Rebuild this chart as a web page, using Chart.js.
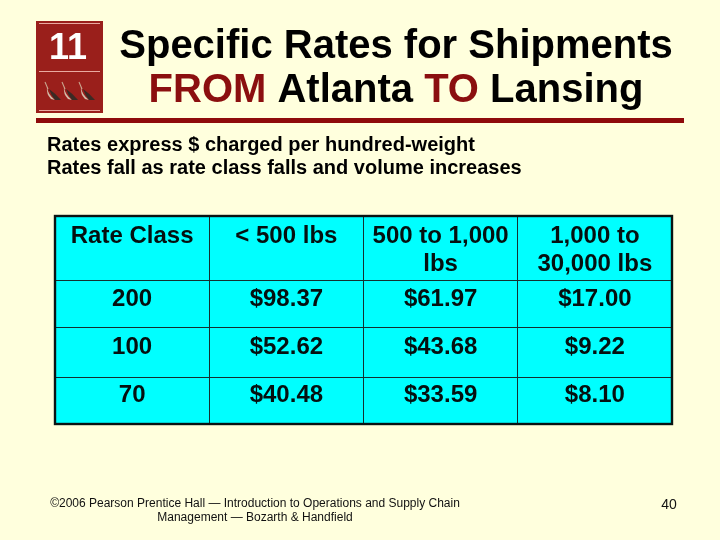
<!DOCTYPE html>
<html><head><meta charset="utf-8">
<style>html,body{margin:0;padding:0;background:#FFFFDD}canvas{display:block}</style>
<script src="https://cdn.jsdelivr.net/npm/chart.js@4"></script>
</head><body>
<canvas id="c" width="720" height="540"></canvas>
<script>
const titleLine1 = [["Specific Rates for Shipments", "#000000"]];
const titleLine2 = [["FROM", "#8B0F0F"], [" Atlanta ", "#000000"], ["TO", "#8B0F0F"], [" Lansing", "#000000"]];
const subtitleLines = ["Rates express $ charged per hundred-weight", "Rates fall as rate class falls and volume increases"];
const columnKeys = ["Rate Class", "< 500 lbs", "500 to 1,000 lbs", "1,000 to 30,000 lbs"];
const columnHeaders = [["Rate Class"], ["< 500 lbs"], ["500 to 1,000", "lbs"], ["1,000 to", "30,000 lbs"]];
const rateClasses = ["200", "100", "70"];
const under500 = ["$98.37", "$52.62", "$40.48"];
const from500 = ["$61.97", "$43.68", "$33.59"];
const from1000 = ["$17.00", "$9.22", "$8.10"];
const footerLines = ["©2006 Pearson Prentice Hall — Introduction to Operations and Supply Chain", "Management — Bozarth & Handfield"];
const pageNumber = "40";
const chapterNumber = "11";

const rowEdges = [0, 64, 111, 161, 208];
const SANS = '"Liberation Sans", Arial, sans-serif';
const RED = "#9A1F1B";

function drawGoose(ctx, x, y) {
  ctx.save(); ctx.translate(x, y);
  ctx.strokeStyle = "#C9A58E"; ctx.lineWidth = 1.1;
  ctx.beginPath(); ctx.moveTo(0, 0); ctx.lineTo(3, 7); ctx.stroke();
  ctx.fillStyle = "#D2BBA8";
  ctx.beginPath(); ctx.moveTo(2, 5); ctx.quadraticCurveTo(3, 13, 10, 18); ctx.lineTo(6, 17); ctx.quadraticCurveTo(1, 12, 2, 5); ctx.fill();
  ctx.fillStyle = "#3A2A24";
  ctx.beginPath(); ctx.moveTo(4, 7); ctx.quadraticCurveTo(10, 11, 16, 18); ctx.lineTo(10, 18); ctx.quadraticCurveTo(6, 13, 4, 7); ctx.fill();
  ctx.restore();
}

const slidePlugin = {
  id: "slide",
  beforeDraw(chart) {
    const { ctx, chartArea: a } = chart;
    ctx.save();
    ctx.fillStyle = "#FFFFDD"; ctx.fillRect(0, 0, 720, 540);
    ctx.fillStyle = "#00FFFF"; ctx.fillRect(a.left, a.top, a.right - a.left, a.bottom - a.top);
    ctx.restore();
  },
  afterDraw(chart) {
    const { ctx, chartArea: a, scales: { x, y } } = chart;
    ctx.save();
    ctx.strokeStyle = "#0A1414"; ctx.lineWidth = 2.4;
    ctx.strokeRect(a.left, a.top, a.right - a.left, a.bottom - a.top);

    // Logo
    ctx.fillStyle = RED; ctx.fillRect(36, 21, 67, 92);
    ctx.fillStyle = "#E9A9A0";
    [23, 71, 110].forEach(ly => ctx.fillRect(39, ly, 61, 1));
    ctx.fillStyle = "#FFFFFF"; ctx.font = 'bold 36px ' + SANS;
    ctx.textAlign = "center"; ctx.textBaseline = "alphabetic";
    ctx.fillText(chapterNumber, 68, 59);
    [45, 62, 79].forEach(gx => drawGoose(ctx, gx, 82));

    // Title
    ctx.fillStyle = "#000"; ctx.font = 'bold 40px ' + SANS;
    ctx.textAlign = "center"; ctx.fillText(titleLine1[0][0], 396, 58);
    const w = titleLine2.reduce((s, t) => s + ctx.measureText(t[0]).width, 0);
    let tx = 396 - w / 2; ctx.textAlign = "left";
    titleLine2.forEach(([t, col]) => { ctx.fillStyle = col; ctx.fillText(t, tx, 102); tx += ctx.measureText(t).width; });

    // Rule
    ctx.fillStyle = "#8E0B0B"; ctx.fillRect(36, 118, 648, 5);

    // Subtitle
    ctx.fillStyle = "#000"; ctx.font = 'bold 20px ' + SANS; ctx.textAlign = "left";
    subtitleLines.forEach((s, i) => ctx.fillText(s, 47, 151 + i * 23));

    // Table
    ctx.font = 'bold 24px ' + SANS; ctx.textAlign = "center"; ctx.textBaseline = "middle";
    ctx.fillStyle = "#051010";
    columnHeaders.forEach((lines, c) => lines.forEach((t, i) =>
      ctx.fillText(t, x.getPixelForValue(c), y.getPixelForValue(rowEdges[0]) + 20 + i * 28)));
    [rateClasses, under500, from500, from1000].forEach((col, c) => col.forEach((t, r) =>
      ctx.fillText(t, x.getPixelForValue(c), y.getPixelForValue(rowEdges[r + 1]) + 19 + (r === 1 ? 1 : r === 2 ? -1 : 0))));

    // Footer
    ctx.font = '12px ' + SANS; ctx.textBaseline = "alphabetic"; ctx.fillStyle = "#111";
    ctx.fillText(footerLines[0], 255, 507);
    ctx.fillText(footerLines[1], 255, 521);
    ctx.font = '14px ' + SANS; ctx.fillText(pageNumber, 669, 509);
    ctx.restore();
  }
};

new Chart(document.getElementById("c"), {
  type: "line",
  data: {
    labels: columnKeys,
    datasets: [{ data: [], showLine: false, pointRadius: 0 }]
  },
  options: {
    responsive: false, animation: false, devicePixelRatio: 1,
    layout: { padding: { left: 55, right: 48, top: 216, bottom: 116 } },
    plugins: { legend: { display: false }, title: { display: false }, tooltip: { enabled: false } },
    scales: {
      x: {
        type: "category", offset: true,
        grid: { display: true, offset: true, color: "#143030", lineWidth: 1, drawTicks: false },
        border: { display: false },
        ticks: { display: false }
      },
      y: {
        type: "linear", reverse: true, min: rowEdges[0], max: rowEdges[rowEdges.length - 1],
        afterBuildTicks(s) { s.ticks = rowEdges.map(v => ({ value: v })); },
        grid: { display: true, color: "#143030", lineWidth: 1, drawTicks: false },
        border: { display: false },
        ticks: { display: false }
      }
    }
  },
  plugins: [slidePlugin]
});
</script>
</body></html>
